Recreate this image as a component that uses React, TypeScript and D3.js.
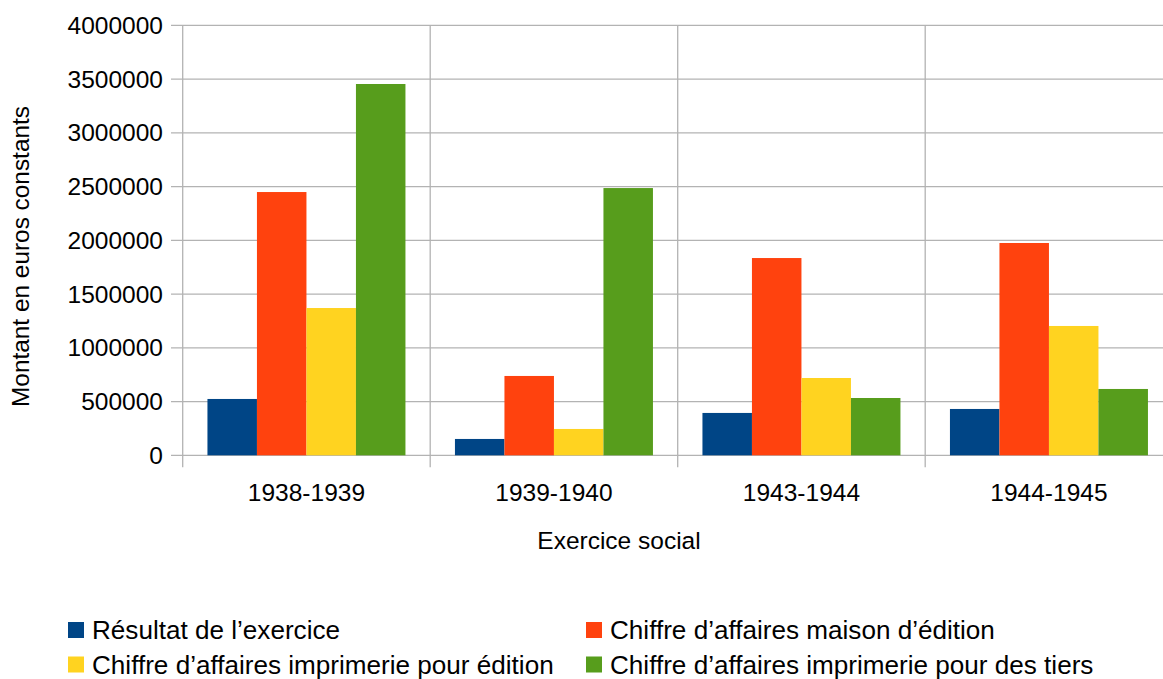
import React from "react";
import * as d3 from "d3";

const categories = ["1938-1939", "1939-1940", "1943-1944", "1944-1945"];
const seriesNames = [
  "Résultat de l’exercice",
  "Chiffre d’affaires maison d’édition",
  "Chiffre d’affaires imprimerie pour édition",
  "Chiffre d’affaires imprimerie pour des tiers",
];
const seriesColors = ["#004586", "#ff420e", "#ffd320", "#579d1c"];
const resultat = [524000, 152000, 394000, 431000];
const maisonEdition = [2449000, 738000, 1835000, 1975000];
const imprimerieEdition = [1370000, 245000, 719000, 1203000];
const imprimerieTiers = [3454000, 2486000, 533000, 617000];
const yTicks = [0, 500000, 1000000, 1500000, 2000000, 2500000, 3000000, 3500000, 4000000];

const seriesValues = [resultat, maisonEdition, imprimerieEdition, imprimerieTiers];

const W = 1163;
const H = 679;
const left = 182.7;
const right = 1172.7;
const top = 25.3;
const bottom = 455.3;
const FONT = "'Liberation Sans', Arial, sans-serif";
const GRID = "#b3b3b3";

export default function App() {
  const x0 = d3.scaleBand<string>().domain(categories).range([left, right]).paddingInner(0).paddingOuter(0);
  const x1 = d3
    .scaleBand<number>()
    .domain(d3.range(seriesNames.length))
    .range([0, x0.bandwidth()])
    .paddingInner(0)
    .paddingOuter(0.5);
  const y = d3.scaleLinear().domain([0, 4000000]).range([bottom, top]);

  const boundaries = categories.map((c) => x0(c) as number).concat([right]);

  const legendPos = [
    { x: 68, y: 622 },
    { x: 586, y: 622 },
    { x: 68, y: 656.5 },
    { x: 586, y: 656.5 },
  ];

  return (
    <svg
      width={W}
      height={H}
      style={{ position: "absolute", left: 0, top: 0, display: "block", background: "#fff" }}
      fontFamily={FONT}
    >
      <rect x={0} y={0} width={W} height={H} fill="#fff" />
      {yTicks.map((t) => (
        <line key={"h" + t} x1={171} x2={W} y1={y(t)} y2={y(t)} stroke={GRID} strokeWidth={1.3} />
      ))}
      {boundaries.map((b, i) => (
        <line key={"v" + i} x1={b} x2={b} y1={top} y2={bottom + 12} stroke={GRID} strokeWidth={1.3} />
      ))}
      {categories.map((c, ci) =>
        seriesValues.map((vals, si) => (
          <rect
            key={c + si}
            x={(x0(c) as number) + (x1(si) as number)}
            y={y(vals[ci])}
            width={x1.bandwidth()}
            height={bottom - y(vals[ci])}
            fill={seriesColors[si]}
          />
        ))
      )}
      {yTicks.map((t) => (
        <text key={"yl" + t} x={163} y={y(t)} dy="0.35em" textAnchor="end" fontSize={24.5} fill="#000">
          {String(t)}
        </text>
      ))}
      {categories.map((c) => (
        <text
          key={"xl" + c}
          x={(x0(c) as number) + x0.bandwidth() / 2}
          y={500.5}
          textAnchor="middle"
          fontSize={24.5}
          fill="#000"
        >
          {c}
        </text>
      ))}
      <text x={619} y={548.5} textAnchor="middle" fontSize={24.5} fill="#000">
        Exercice social
      </text>
      <text transform={`translate(29,256.5) rotate(-90)`} textAnchor="middle" fontSize={24.4} fill="#000">
        Montant en euros constants
      </text>
      {seriesNames.map((n, i) => (
        <g key={"lg" + i} transform={`translate(${legendPos[i].x},${legendPos[i].y})`}>
          <rect x={0} y={0} width={16} height={16} fill={seriesColors[i]} />
          <text x={24} y={17} fontSize={26.1} fill="#000">
            {n}
          </text>
        </g>
      ))}
    </svg>
  );
}
